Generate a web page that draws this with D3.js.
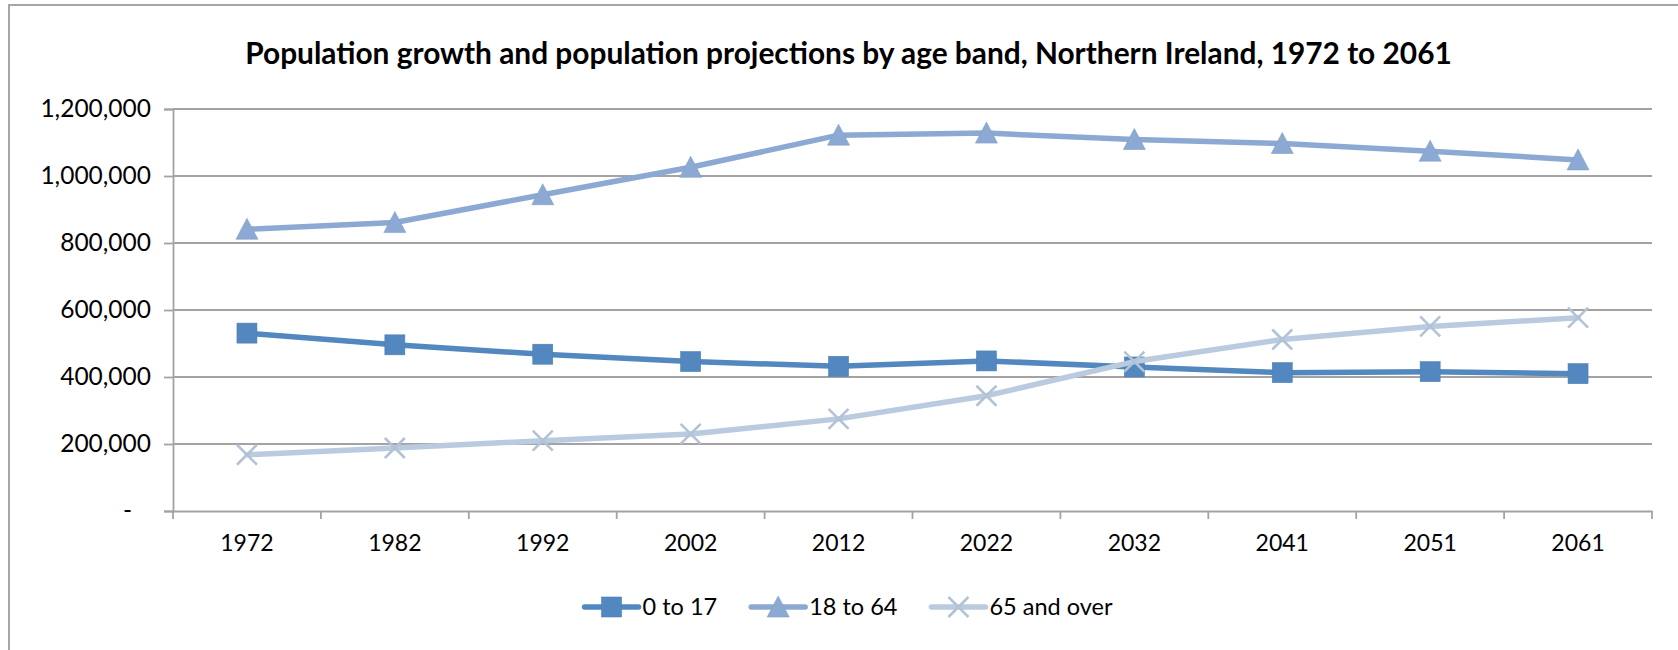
<!DOCTYPE html>
<html>
<head>
<meta charset="utf-8">
<title>Population growth and population projections by age band, Northern Ireland</title>
<script src="https://cdn.jsdelivr.net/npm/d3@7"></script>
<style>
  html, body { margin: 0; padding: 0; background: #fff; }
  svg { display: block; }
  text { font-family: Lato, "Open Sans", sans-serif; fill: #000; }
</style>
</head>
<body>
<svg id="chart" width="1678" height="650"></svg>
<script>
// Years on the category axis
const years = ["1972", "1982", "1992", "2002", "2012", "2022", "2032", "2041", "2051", "2061"];

// Population by age band (persons)
const age0to17   = [531000, 496000, 468000, 446000, 432000, 448000, 430000, 413000, 416000, 410000];
const age18to64  = [841000, 861000, 944000, 1026000, 1122000, 1128000, 1109000, 1097000, 1074000, 1048000];
const age65plus  = [168000, 188000, 210000, 230000, 275000, 344000, 446000, 512000, 551000, 577000];

const seriesNames = ["0 to 17", "18 to 64", "65 and over"];
const yTicks = [0, 200000, 400000, 600000, 800000, 1000000, 1200000];
const titleText = "Population growth and population projections by age band, Northern Ireland, 1972 to 2061";

const series = [
  { name: seriesNames[0], values: age0to17,  color: "#5387BF", marker: "square" },
  { name: seriesNames[1], values: age18to64, color: "#8BA9D3", marker: "triangle" },
  { name: seriesNames[2], values: age65plus, color: "#BACADF", marker: "cross" }
];

const plot = { left: 173, right: 1652, top: 109, bottom: 511 };
const gridColor = "#a3a3a3";
const yFont = 24.5, xFont = 23, legendFont = 23.5;

const svg = d3.select("#chart");

// chart frame
svg.append("rect")
  .attr("x", 9).attr("y", 5)
  .attr("width", 1690).attr("height", 700)
  .attr("fill", "#fff")
  .attr("stroke", "#a6a6a6").attr("stroke-width", 2);

// title
const title = svg.append("text")
  .attr("x", 848.5).attr("y", 64)
  .attr("text-anchor", "middle")
  .style("font-weight", "700")
  .style("font-size", "26px")
  .text(titleText);
// size the title to its line width
const tw = title.node().getComputedTextLength();
title.style("font-size", (26 * 1207 / tw).toFixed(2) + "px");

const x = d3.scaleBand().domain(years).range([plot.left, plot.right]).paddingInner(0).paddingOuter(0);
const y = d3.scaleLinear().domain([0, 1200000]).range([plot.bottom, plot.top]);

// horizontal gridlines
svg.append("g")
  .selectAll("line")
  .data(yTicks.filter(d => d > 0))
  .join("line")
  .attr("x1", plot.left).attr("x2", plot.right)
  .attr("y1", d => y(d)).attr("y2", d => y(d))
  .attr("stroke", gridColor).attr("stroke-width", 1.8);

// y axis
const yAxis = svg.append("g")
  .attr("transform", `translate(${plot.left},0)`)
  .call(d3.axisLeft(y).tickValues(yTicks).tickSize(9).tickPadding(13)
        .tickFormat(d => d === 0 ? "-" : d3.format(",")(d)));
yAxis.select(".domain").attr("stroke", gridColor).attr("stroke-width", 1.8);
yAxis.selectAll(".tick line").attr("stroke", gridColor).attr("stroke-width", 1.8);
yAxis.selectAll(".tick text")
  .style("font-size", yFont + "px")
  .style("font-family", "Lato, sans-serif")
  .attr("fill", "#000")
  .attr("dx", d => d === 0 ? -19 : 0);

// x axis with tick marks between categories
const xAxis = svg.append("g")
  .attr("transform", `translate(0,${plot.bottom})`)
  .call(d3.axisBottom(x).tickSize(0).tickPadding(24));
xAxis.select(".domain").attr("stroke", gridColor).attr("stroke-width", 1.8);
xAxis.selectAll(".tick text")
  .style("font-size", xFont + "px")
  .style("font-family", "Lato, sans-serif")
  .attr("fill", "#000");
const bounds = years.map(d => x(d)).concat([x(years[years.length - 1]) + x.bandwidth()]);
xAxis.append("g").selectAll("line")
  .data(bounds)
  .join("line")
  .attr("x1", d => d).attr("x2", d => d)
  .attr("y1", 0).attr("y2", 8)
  .attr("stroke", gridColor).attr("stroke-width", 1.8);

const cx = d => x(d) + x.bandwidth() / 2;

function drawMarker(g, type, color) {
  if (type === "square") {
    g.append("rect").attr("x", -10).attr("y", -10).attr("width", 20).attr("height", 20)
      .attr("fill", color).attr("stroke", d3.color(color).darker(0.15)).attr("stroke-width", 0.6);
  } else if (type === "triangle") {
    g.append("path").attr("d", "M0,-11 L11,10 L-11,10 Z")
      .attr("fill", color).attr("stroke", d3.color(color).darker(0.15)).attr("stroke-width", 0.6);
  } else {
    g.append("path").attr("d", "M-10,-10 L10,10 M10,-10 L-10,10")
      .attr("fill", "none").attr("stroke", d3.color(color).darker(0.1)).attr("stroke-width", 2.6);
  }
}

const line = d3.line().x((d, i) => cx(years[i])).y(d => y(d));

series.forEach(s => {
  const g = svg.append("g");
  g.append("path")
    .attr("d", line(s.values))
    .attr("fill", "none")
    .attr("stroke", s.color)
    .attr("stroke-width", 5.5)
    .attr("stroke-linejoin", "round")
    .attr("stroke-linecap", "round");
  g.selectAll("g.m")
    .data(s.values)
    .join("g")
    .attr("class", "m")
    .attr("transform", (d, i) => `translate(${cx(years[i])},${y(d)})`)
    .each(function () { drawMarker(d3.select(this), s.marker, s.color); });
});

// legend
const legendY = 607;
const lineLen = 54, textGap = 4, itemGap = 34;
const legend = svg.append("g");
const items = series.map(s => {
  const g = legend.append("g");
  g.append("line").attr("x1", 0).attr("x2", lineLen).attr("y1", 0).attr("y2", 0)
    .attr("stroke", s.color).attr("stroke-width", 5.5).attr("stroke-linecap", "round");
  const mk = g.append("g").attr("transform", `translate(${lineLen / 2},0)`);
  drawMarker(mk, s.marker, s.color);
  const t = g.append("text").attr("x", lineLen + textGap).attr("y", 0).attr("dy", "0.35em")
    .style("font-size", legendFont + "px").text(s.name);
  return { g, w: lineLen + textGap + t.node().getComputedTextLength() };
});
const totalW = d3.sum(items, d => d.w) + itemGap * (items.length - 1);
let lx = 848.5 - totalW / 2;
items.forEach(it => {
  it.g.attr("transform", `translate(${lx},${legendY})`);
  lx += it.w + itemGap;
});
</script>
</body>
</html>
